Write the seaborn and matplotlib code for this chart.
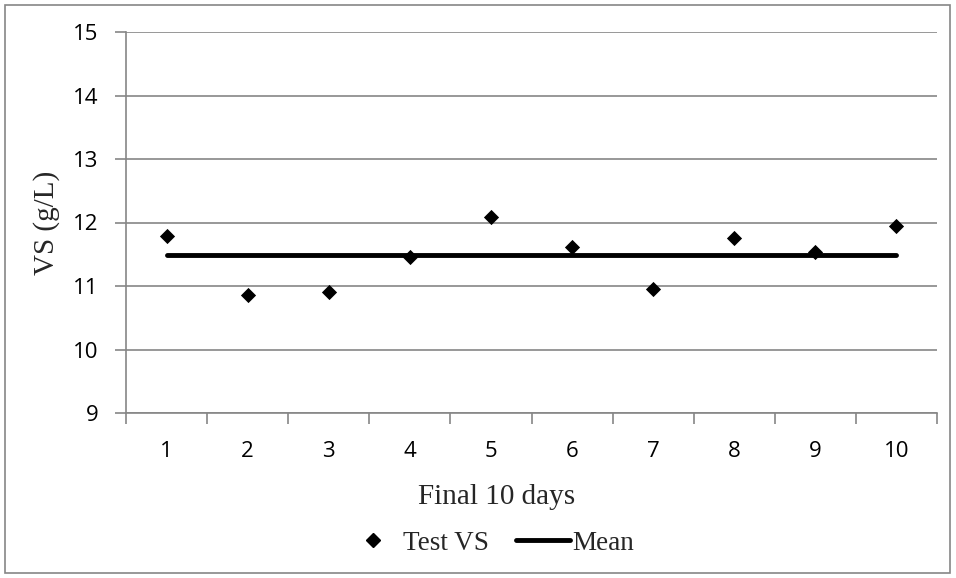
import matplotlib
matplotlib.use("Agg")
import matplotlib.pyplot as plt
from matplotlib.lines import Line2D
from matplotlib.patches import Rectangle
import seaborn as sns
import pandas as pd
import numpy as np

days = [1, 2, 3, 4, 5, 6, 7, 8, 9, 10]
test_vs = [11.79, 10.86, 10.91, 11.46, 12.09, 11.61, 10.96, 11.76, 11.54, 11.94]
mean_vs = [11.49] * 10
y_ticks = [9, 10, 11, 12, 13, 14, 15]

df = pd.DataFrame({"day": days, "Test VS": test_vs, "Mean": mean_vs})

sns.set_theme(style="white")
fig = plt.figure(figsize=(9.56, 5.78), dpi=100)
ax = fig.add_axes([126/956, 1-413/578, (937-126)/956, (413-32)/578])

grid_c = "#868686"
sns.lineplot(data=df, x="day", y="Mean", ax=ax, color="black", linewidth=3.5, zorder=3)
sns.scatterplot(data=df, x="day", y="Test VS", ax=ax, marker="D", s=60, color="black",
                edgecolor="black", linewidth=0, zorder=4)

tick_font = {"family": "Open Sans", "size": 16}
ax.set_xlim(0.5, 10.5)
ax.set_ylim(9, 15)
ax.set_yticks(y_ticks)
ax.set_yticklabels([str(t) for t in y_ticks], fontdict=tick_font, color="black")
ax.set_xticks(days)
ax.set_xticklabels([str(d) for d in days], fontdict=tick_font, color="black")
ax.set_xticks(np.arange(0.5, 11, 1), minor=True)
ax.tick_params(axis="x", which="major", length=0, pad=20)
ax.tick_params(axis="x", which="minor", length=8, color=grid_c, width=1.2, bottom=True)
ax.tick_params(axis="y", which="major", length=8, color=grid_c, width=1.2, left=True, pad=12)
ax.yaxis.grid(True, color=grid_c, linewidth=1.2)
ax.xaxis.grid(False)
for s in ["top", "right"]:
    ax.spines[s].set_visible(False)
for s in ["left", "bottom"]:
    ax.spines[s].set_color(grid_c)
    ax.spines[s].set_linewidth(1.2)

serif = {"family": "Liberation Serif", "size": 21}
ax.set_xlabel("Final 10 days", fontdict=serif, labelpad=16)
ax.xaxis.label.set_x((497 - 126) / 811)
ax.set_ylabel("VS (g/L)", fontdict=serif, labelpad=9)

handles = [Line2D([], [], marker="D", color="black", linestyle="none", markersize=7.5),
           Line2D([], [], color="black", linewidth=3.5)]
fig.legend(handles, ["Test VS", "Mean"], loc="center", bbox_to_anchor=(490/956, 1-543/578),
           ncol=2, frameon=False, prop={"family": "Liberation Serif", "size": 19.5},
           handlelength=2.0, handletextpad=0.1, columnspacing=1.0)

fig.patches.append(Rectangle((5/956, 5/578), 945/956, 568/578, transform=fig.transFigure,
                             fill=False, edgecolor=grid_c, linewidth=1.2))

fig.savefig("out.png", dpi=100)
